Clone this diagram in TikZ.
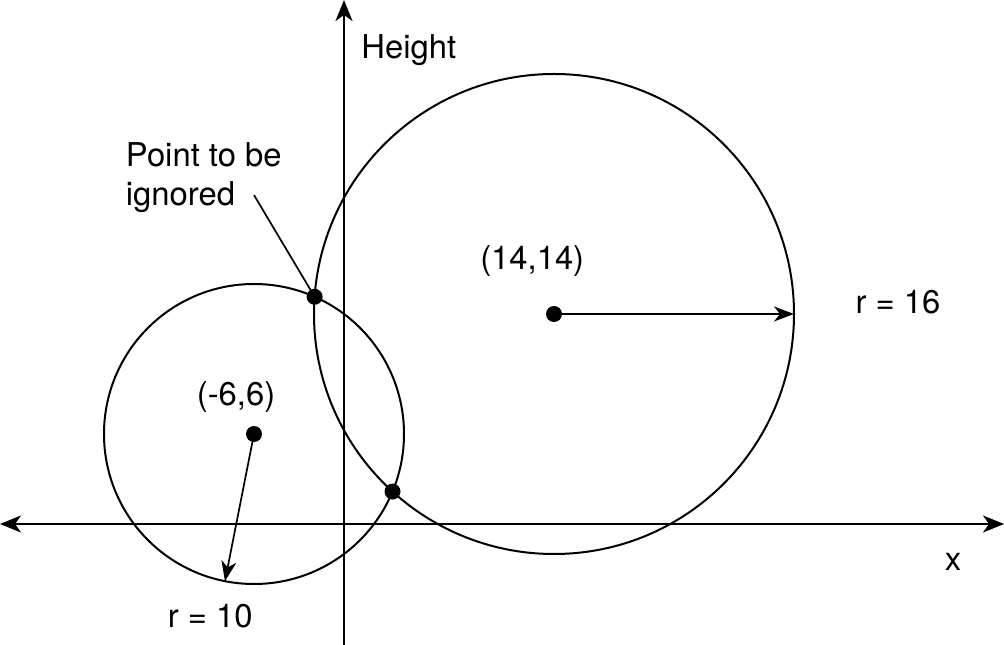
\documentclass[tikz,border=0pt]{standalone}
\usepackage{fontspec}
\setmainfont{TeX Gyre Heros}
\usetikzlibrary{arrows.meta}
\begin{document}
\begin{tikzpicture}[x=15pt,y=15pt,
  axisline/.style={line width=2.3pt},
  circleline/.style={line width=2pt},
  radiusline/.style={line width=1.7pt,-{Stealth[length=20pt,width=15pt,inset=6pt]}},
  leaderline/.style={line width=1.7pt},
  dotmark/.style={fill=black},
  lbl/.style={font=\fontsize{32.8}{39}\selectfont, inner sep=0pt, anchor=base west}
]
\useasboundingbox (-344/15,-121/15) rectangle (44,524/15);
% axes
\coordinate (xl) at (-344/15,0);
\coordinate (xr) at (44,0);
\coordinate (yb) at (0,-121/15);
\coordinate (yt) at (0,524/15);
\draw[axisline,{Stealth[length=21pt,width=17pt,inset=6pt]}-{Stealth[length=21pt,width=17pt,inset=6pt]}] (xl) -- (xr);
\draw[axisline,-{Stealth[length=21pt,width=17pt,inset=6pt]}] (yb) -- (yt);
% circles
\coordinate (c1) at (-6,6);
\coordinate (c2) at (14,14);
\draw[circleline] (c1) circle[radius=10];
\draw[circleline] (c2) circle[radius=16];
% intersection points
\coordinate (q1) at (-1.95882,15.14707);
\coordinate (q2) at (3.23470,2.16329);
% radius arrows
\coordinate (e2) at (30,14);
\coordinate (e1) at ([shift={(258.84:10)}]c1);
\draw[radiusline] (c2) -- (e2);
\draw[radiusline] (c1) -- (e1);
% leader
\coordinate (lead) at (-6.0,21.93);
\draw[leaderline] (lead) -- (q1);
% dots
\fill[dotmark] (c1) circle[radius=8pt];
\fill[dotmark] (c2) circle[radius=8pt];
\fill[dotmark] (q1) circle[radius=8pt];
\fill[dotmark] (q2) circle[radius=8pt];
% labels
\node[lbl] (hl) at (1.15,31.0) {Height};
\node[lbl] (p1) at (-14.55,23.82) {Point to be};
\node[lbl] (p2) at (-14.55,21.2) {ignored};
\node[lbl] (l2) at (9.07,16.98) {(14,14)};
\node[lbl] (r2) at (34.1,14.0) {r = 16};
\node[lbl] (l1) at (-9.82,7.93) {(-6,6)};
\node[lbl] (xlab) at (40.05,-3.07) {x};
\node[lbl] (r1) at (-11.75,-6.87) {r = 10};
\end{tikzpicture}
\end{document}
